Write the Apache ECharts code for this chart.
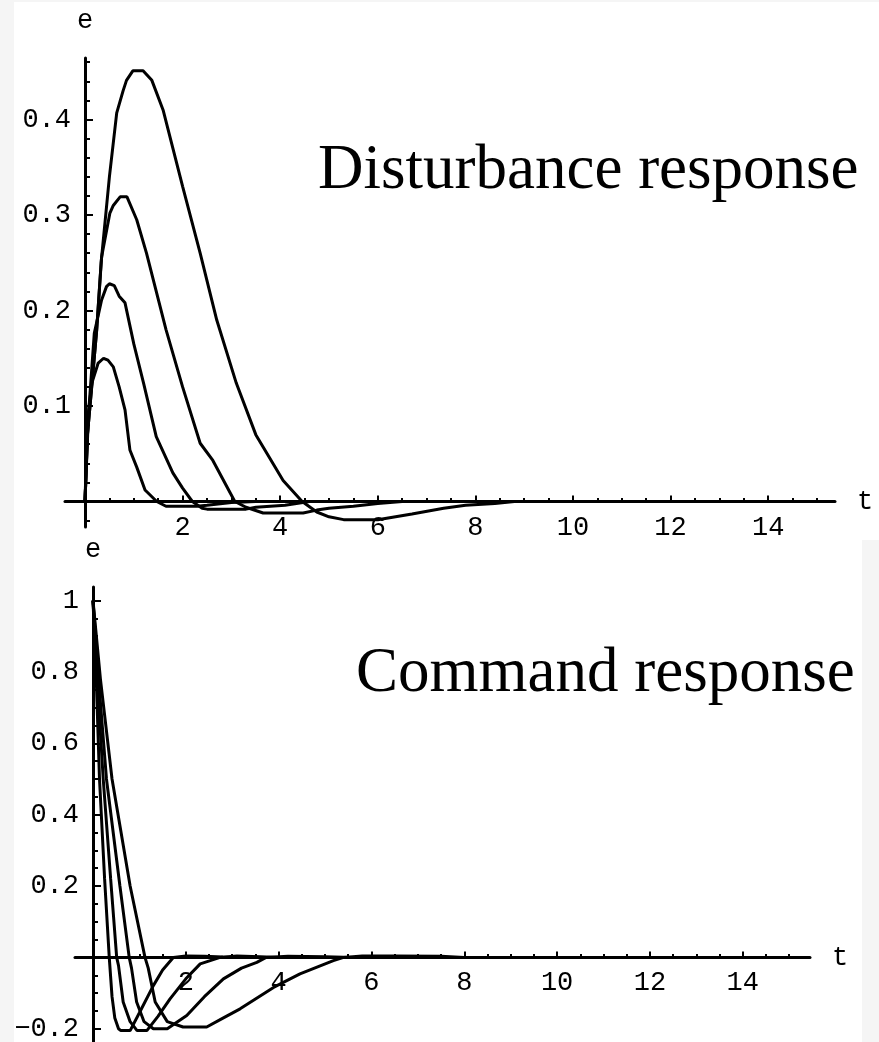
<!DOCTYPE html>
<html><head><meta charset="utf-8">
<script src="https://cdn.jsdelivr.net/npm/echarts@6/dist/echarts.min.js"></script>
<style>html,body{margin:0;padding:0;background:#fff}#c{width:879px;height:1042px}</style>
</head><body><div id="c"></div><script>
// ---- Disturbance response curves: [t, e]
const distA = [[0,0],[0.05,0.085],[0.14,0.124],[0.27,0.145],[0.38,0.15],[0.47,0.148],[0.58,0.141],[0.7,0.12],[0.82,0.096],[0.92,0.054],[1.06,0.036],[1.23,0.012],[1.47,0],[1.66,-0.005],[2.3,-0.005],[2.5,-0.004],[3.0,-0.001],[3.5,0]];
const distB = [[0,0],[0.07,0.09],[0.19,0.176],[0.34,0.211],[0.44,0.225],[0.5,0.228],[0.6,0.226],[0.7,0.215],[0.82,0.208],[1.0,0.165],[1.2,0.124],[1.46,0.068],[1.8,0.03],[2.0,0.014],[2.2,0],[2.4,-0.007],[2.5,-0.008],[3.3,-0.008],[3.5,-0.006],[4.1,-0.004],[4.6,0]];
const distC = [[0,0],[0.05,0.07],[0.12,0.11],[0.24,0.18],[0.34,0.256],[0.51,0.302],[0.58,0.31],[0.72,0.319],[0.86,0.319],[1.06,0.295],[1.26,0.26],[1.66,0.18],[2.0,0.12],[2.36,0.061],[2.62,0.043],[3.07,0],[3.3,-0.006],[3.65,-0.012],[4.47,-0.012],[4.75,-0.009],[5.0,-0.007],[5.5,-0.005],[6.0,-0.002],[6.5,0]];
const distD = [[0,0],[0.05,0.07],[0.12,0.11],[0.24,0.18],[0.33,0.25],[0.5,0.34],[0.65,0.407],[0.78,0.43],[0.85,0.441],[0.98,0.451],[1.19,0.451],[1.37,0.441],[1.6,0.41],[2.0,0.33],[2.36,0.26],[2.7,0.19],[3.1,0.124],[3.5,0.07],[4.06,0.022],[4.45,0],[4.75,-0.011],[5.0,-0.016],[5.3,-0.019],[6.0,-0.019],[6.7,-0.013],[7.35,-0.007],[7.8,-0.004],[8.4,-0.002],[8.8,0]];
// ---- Command response curves: [t, e]
const cmd1 = [[0,1],[0.07,0.78],[0.14,0.5],[0.25,0.22],[0.35,0],[0.41,-0.11],[0.47,-0.17],[0.55,-0.2],[0.6,-0.205],[0.8,-0.205],[1.0,-0.155],[1.3,-0.079],[1.5,-0.035],[1.73,0],[2.0,0.004],[2.4,0.003],[2.8,0.001],[3.2,0]];
const cmd2 = [[0,1],[0.09,0.78],[0.22,0.5],[0.38,0.22],[0.51,0],[0.55,-0.023],[0.65,-0.125],[0.8,-0.18],[0.95,-0.205],[1.16,-0.205],[1.4,-0.165],[1.66,-0.116],[2.0,-0.06],[2.31,-0.018],[2.74,0],[3.1,0.004],[3.6,0.002],[4.0,0]];
const cmd3 = [[0,1],[0.12,0.78],[0.29,0.5],[0.58,0.2],[0.78,0],[0.83,-0.03],[0.94,-0.125],[1.1,-0.18],[1.3,-0.2],[1.6,-0.2],[2.02,-0.163],[2.4,-0.11],[2.81,-0.06],[3.2,-0.03],[3.53,-0.014],[3.73,0],[4.2,0.003],[5.0,0.002],[5.6,0]];
const cmd4 = [[0,1],[0.16,0.78],[0.41,0.5],[0.8,0.2],[1.12,0],[1.19,-0.03],[1.34,-0.125],[1.6,-0.18],[1.94,-0.195],[2.45,-0.195],[2.8,-0.17],[3.17,-0.144],[3.89,-0.084],[4.46,-0.046],[5.18,-0.009],[5.4,0],[5.8,0.004],[6.5,0.004],[7.5,0.003],[8.0,0]];
// ---- Ticks
const xMajorTicks = [2,4,6,8,10,12,14];
const xMinorTicks = [0.5,1,1.5,2.5,3,3.5,4.5,5,5.5,6.5,7,7.5,8.5,9,9.5,10.5,11,11.5,12.5,13,13.5,14.5,15];
const topYMajor = [0.1,0.2,0.3,0.4];
const topYMinor = [-0.02,0.02,0.04,0.06,0.08,0.12,0.14,0.16,0.18,0.22,0.24,0.26,0.28,0.32,0.34,0.36,0.38,0.42,0.44,0.46];
const botYMajor = [-0.2,0.2,0.4,0.6,0.8,1];
const botYMinor = [-0.15,-0.1,-0.05,0.05,0.1,0.15,0.25,0.3,0.35,0.45,0.5,0.55,0.65,0.7,0.75,0.85,0.9,0.95];
const titles = ['Disturbance response','Command response'];

const W = 879, H = 1042;
const MONO = 'Liberation Mono';
const txt = {fontFamily: MONO, fontSize: 27, color: '#000'};

// panel layout (grid box) and axis ranges
const panels = [
  {left:65, right:44, top:58, bottom:515, xmin:-0.41, xmax:15.37, ymin:-0.0267, ymax:0.4644, yMajor:topYMajor, yMinor:topYMinor, xMargin:13},
  {left:75, right:69, top:587, bottom:0, xmin:-0.388, xmax:15.45, ymin:-0.237, ymax:1.038, yMajor:botYMajor, yMinor:botYMinor, xMargin:12}
];

const xAxis = [], yAxis = [], grid = [];
panels.forEach(function (p, g) {
  grid.push({left:p.left, right:p.right, top:p.top, bottom:p.bottom, outerBoundsMode:'none', containLabel:false});
  const gw = W - p.left - p.right, gh = H - p.top - p.bottom;
  // place each axis line through the other axis's zero
  const yOff = -(0 - p.xmin) / (p.xmax - p.xmin) * gw;
  const xOff = -(0 - p.ymin) / (p.ymax - p.ymin) * gh;
  const xb = {type:'value', gridIndex:g, min:p.xmin, max:p.xmax, position:'bottom', offset:xOff, splitLine:{show:false}};
  xAxis.push(Object.assign({}, xb, {
    axisLine:{show:true,onZero:false,lineStyle:{color:'#000',width:3}},
    axisTick:{show:true,inside:true,length:6,customValues:xMajorTicks,lineStyle:{color:'#000',width:2}},
    axisLabel:Object.assign({show:true,customValues:xMajorTicks,margin:p.xMargin}, txt),
    name:'t', nameLocation:'end', nameGap:22, nameTextStyle:txt
  }));
  xAxis.push(Object.assign({}, xb, {
    axisLine:{show:false,onZero:false},
    axisTick:{show:true,inside:true,length:3.5,customValues:xMinorTicks,lineStyle:{color:'#000',width:2}},
    axisLabel:{show:false}
  }));
  const yb = {type:'value', gridIndex:g, min:p.ymin, max:p.ymax, position:'left', offset:yOff, splitLine:{show:false}};
  yAxis.push(Object.assign({}, yb, {
    axisLine:{show:true,onZero:false,lineStyle:{color:'#000',width:3}},
    axisTick:{show:true,inside:true,length:8,customValues:p.yMajor,lineStyle:{color:'#000',width:2}},
    axisLabel:Object.assign({show:true,customValues:p.yMajor,margin:14,
      formatter:function(v){ return v < 0 ? '\u2212' + String(-v) : String(v); }}, txt),
    name:'e', nameLocation:'end', nameGap:24, nameTextStyle:txt
  }));
  yAxis.push(Object.assign({}, yb, {
    axisLine:{show:false,onZero:false},
    axisTick:{show:true,inside:true,length:5,customValues:p.yMinor,lineStyle:{color:'#000',width:2}},
    axisLabel:{show:false}
  }));
});

function curve(data, g) {
  return {type:'line', xAxisIndex:g*2, yAxisIndex:g*2, data:data, showSymbol:false, symbol:'none',
    lineStyle:{color:'#000', width:3}, silent:true, animation:false, z:3};
}

const chart = echarts.init(document.getElementById('c'), null, {renderer:'canvas'});
chart.setOption({
  backgroundColor:'#fff',
  animation:false,
  grid:grid,
  xAxis:xAxis,
  yAxis:yAxis,
  series:[
    curve(distA,0), curve(distB,0), curve(distC,0), curve(distD,0),
    curve(cmd1,1), curve(cmd2,1), curve(cmd3,1), curve(cmd4,1)
  ],
  graphic:[
    {type:'rect', z:-1, shape:{x:0,y:0,width:14,height:1042}, style:{fill:'#f5f5f5'}},
    {type:'rect', z:-1, shape:{x:0,y:0,width:879,height:2}, style:{fill:'#f5f5f5'}},
    {type:'rect', z:-1, shape:{x:862,y:540,width:17,height:502}, style:{fill:'#f5f5f5'}},
    {type:'text', left:318, top:140, style:{text:titles[0], font:'63px "Liberation Serif"', fill:'#000'}},
    {type:'text', left:356, top:643, style:{text:titles[1], font:'63px "Liberation Serif"', fill:'#000'}}
  ]
});
</script></body></html>
